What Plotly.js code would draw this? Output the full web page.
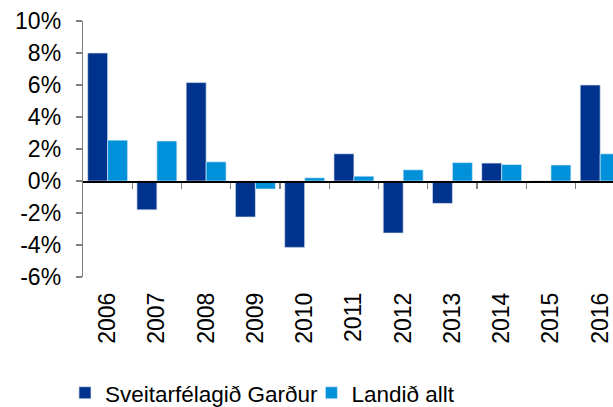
<!DOCTYPE html>
<html>
<head>
<meta charset="utf-8">
<script src="https://cdn.plot.ly/plotly-3.0.1.min.js"></script>
<style>html,body{margin:0;padding:0;background:#fff;}#chart{width:613px;height:407px;}</style>
</head>
<body>
<div id="chart"></div>
<script>
const years = ['2006','2007','2008','2009','2010','2011','2012','2013','2014','2015','2016'];
const gardur = [8.0, -1.8, 6.15, -2.25, -4.15, 1.7, -3.25, -1.4, 1.12, 0, 6.0];
const landid = [2.55, 2.5, 1.2, -0.5, 0.2, 0.3, 0.7, 1.15, 1.03, 1.0, 1.7];
const seriesNames = ['Sveitarfélagið Garður', 'Landið allt'];
const yTickVals = [-6, -4, -2, 0, 2, 4, 6, 8, 10];
const yTickText = ['-6%', '-4%', '-2%', '0%', '2%', '4%', '6%', '8%', '10%'];

const FONT = 'Liberation Sans, Arial, sans-serif';
const FS = 23;
const LFS = 22.5;
const xIdx = years.map((_, i) => i);
const xRange = [-0.5, 10.26];

const traces = [
  {type: 'bar', name: seriesNames[0], x: xIdx, y: gardur, legend: 'legend',
   marker: {color: '#00338D', line: {color: 'rgba(220,228,240,0.8)', width: 0.8}}},
  {type: 'bar', name: seriesNames[1], x: xIdx, y: landid, legend: 'legend2',
   marker: {color: '#0091DA', line: {color: 'rgba(220,236,248,0.8)', width: 0.8}}}
];
// invisible trace so the boundary-tick axis is drawn
traces.push({type: 'scatter', x: [xRange[0]], y: [0], xaxis: 'x2', showlegend: false,
  hoverinfo: 'skip', mode: 'markers', marker: {opacity: 0}});

const layout = {
  width: 613, height: 407,
  margin: {l: 83, r: 0, t: 21, b: 130},
  paper_bgcolor: '#fff', plot_bgcolor: '#fff',
  font: {family: FONT, size: FS, color: '#000'},
  barmode: 'group', bargap: 0.19, bargroupgap: 0,
  xaxis: {
    type: 'linear', range: xRange, tickmode: 'array', tickvals: xIdx, ticktext: years,
    tickangle: -90, ticks: '', showline: false, showgrid: false, zeroline: false,
    tickfont: {family: FONT, size: FS, color: '#000'}, ticklabelstandoff: 10
  },
  xaxis2: {
    type: 'linear', range: xRange, overlaying: 'x', anchor: 'free', position: 0.375,
    tickmode: 'array', tickvals: years.slice(0, -1).map((_, i) => i + 0.5),
    ticks: 'outside', ticklen: 6, tickcolor: '#808080', tickwidth: 1.3,
    showticklabels: false, showline: true, linecolor: '#000', linewidth: 1.5,
    showgrid: false, zeroline: false
  },
  yaxis: {
    range: [-6, 10], tickmode: 'array', tickvals: yTickVals, ticktext: yTickText,
    ticks: 'outside', ticklen: 6, tickcolor: '#808080', tickwidth: 1.3,
    showline: true, linecolor: '#808080', linewidth: 1.3,
    showgrid: false, zeroline: false, ticklabelstandoff: 10,
    tickfont: {family: FONT, size: FS, color: '#000'}
  },
  legend: {
    orientation: 'h', xref: 'container', yref: 'container', x: 0.106, y: 0.034,
    xanchor: 'left', yanchor: 'middle', font: {family: FONT, size: LFS, color: '#000'},
    bgcolor: 'rgba(0,0,0,0)', borderwidth: 0
  },
  legend2: {
    orientation: 'h', xref: 'container', yref: 'container', x: 0.508, y: 0.034,
    xanchor: 'left', yanchor: 'middle', font: {family: FONT, size: LFS, color: '#000'},
    bgcolor: 'rgba(0,0,0,0)', borderwidth: 0
  },
  showlegend: true
};

Plotly.newPlot('chart', traces, layout, {displayModeBar: false, staticPlot: true});
</script>
</body>
</html>
